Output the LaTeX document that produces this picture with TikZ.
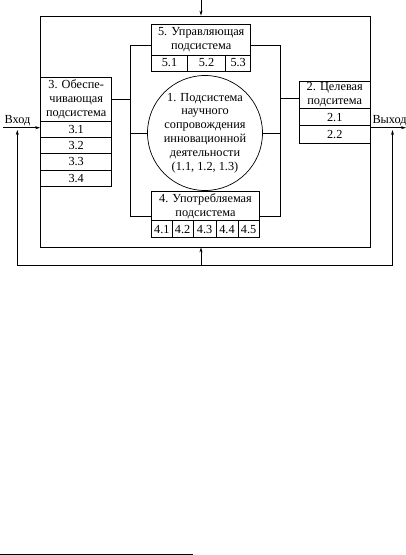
\documentclass[tikz,border=0pt]{standalone}
\usepackage{fontspec}
\setmainfont{Liberation Serif}
\usetikzlibrary{arrows.meta,positioning,calc}

\begin{document}
\begin{tikzpicture}[
  x=1pt, y=-1pt,
  subsys/.style={
    rectangle, draw, line width=0.7pt,
    inner sep=0pt, align=center,
    font=\fontsize{12.3}{13.9}\selectfont
  },
  cell/.style={subsys, minimum height=#1},
  cell/.default=16.4pt,
  lbl/.style={font=\fontsize{12.3}{13.9}\selectfont, inner sep=0pt},
  conn/.style={line width=0.7pt},
  arr/.style={-{Stealth[length=5pt, width=3pt]}, line width=0.7pt}
]
\useasboundingbox (0,0) rectangle (406,555);

% outer frame of the system
\node[subsys, minimum width=329.5pt, minimum height=231pt] (sys) at (205.25,131.5) {};

% 5: control subsystem
\node[subsys, minimum width=99pt, minimum height=30.7pt] (s5) at (201.2,39.65)
  {5. Управляющая\\подсистема};
\node[cell=16pt, minimum width=35.6pt] (c51) at (169.5,63) {5.1};
\node[cell=16pt, minimum width=38.4pt] (c52) at (206.5,63) {5.2};
\node[cell=16pt, minimum width=25pt]   (c53) at (238.2,63) {5.3};

% 1: core subsystem
\node[subsys, circle, minimum size=112pt] (s1) at (205,133)
  {1. Подсистема\\научного\\сопровождения\\инновационной\\деятельности\\(1.1, 1.2, 1.3)};

% 4: consumed subsystem
\node[subsys, minimum width=107.6pt, minimum height=29.7pt] (s4) at (205.5,205.85)
  {4. Употребляемая\\подсистема};
\node[cell=17pt, minimum width=20.3pt] (c41) at (161.85,229.2) {4.1};
\node[cell=17pt, minimum width=21.3pt] (c42) at (182.65,229.2) {4.2};
\node[cell=17pt, minimum width=22.7pt] (c43) at (204.65,229.2) {4.3};
\node[cell=17pt, minimum width=22pt]   (c44) at (227,229.2)    {4.4};
\node[cell=17pt, minimum width=21.3pt] (c45) at (248.65,229.2) {4.5};

% 3: supporting subsystem
\node[subsys, minimum width=71pt, minimum height=43.3pt] (s3) at (76.2,99.35)
  {3. Обеспе-\\чивающая\\подсистема};
\node[cell, minimum width=71pt] (c31) at (76.2,129.2) {3.1};
\node[cell, minimum width=71pt] (c32) at (76.2,145.6) {3.2};
\node[cell, minimum width=71pt] (c33) at (76.2,162)   {3.3};
\node[cell, minimum width=71pt] (c34) at (76.2,178.4) {3.4};

% 2: target subsystem
\node[subsys, minimum width=70.5pt, minimum height=27.3pt] (s2) at (334.75,94.65)
  {2. Целевая\\подситема};
\node[cell=17.5pt, minimum width=70.5pt] (c21) at (334.75,117.05) {2.1};
\node[cell=17.5pt, minimum width=70.5pt] (c22) at (334.75,134.55) {2.2};

% inner bus
\coordinate (brTL) at (130.7,45);
\coordinate (brBR) at (280,216);
\coordinate (j2) at (280,98.5);
\draw[conn] (brTL -| s5.west) -- (brTL) -- (brTL |- brBR) -- (brBR -| s4.west);
\draw[conn] (brTL -| s5.east) -- (brTL -| brBR) -- (brBR) -- (brBR -| s4.east);
\draw[conn] (s3.east) -- (s3.east -| brTL);
\draw[conn] (j2) -- (j2 -| s2.west);
\draw[conn] (s1.west) -- (s1.west -| brTL);
\draw[conn] (s1.east) -- (s1.east -| brBR);

% input, output, control
\coordinate (top) at (201,0);
\coordinate (inL) at (3,127.7);
\coordinate (outR) at (406,127.7);
\draw[arr] (top) -- (top |- sys.north);
\draw[arr] (inL) -- (inL -| sys.west);
\draw[arr] (outR -| sys.east) -- (outR);
\node[lbl, anchor=base west] (inT) at (4.5,123.8) {Вход};
\node[lbl, anchor=base west] (outT) at (372.3,123.8) {Выход};

% feedback loop
\coordinate (fbL) at (17.3,130);
\coordinate (fbR) at (392.5,130);
\coordinate (fbM) at (201,265);
\draw[arr, {Stealth[length=5pt, width=3pt]}-{Stealth[length=5pt, width=3pt]}]
  (fbL) -- (fbL |- fbM) -| (fbR);
\draw[arr] (fbM) -- (fbM |- sys.south);

% footnote rule
\draw[line width=0.8pt] (0,554) -- (193,554);
\end{tikzpicture}
\end{document}
